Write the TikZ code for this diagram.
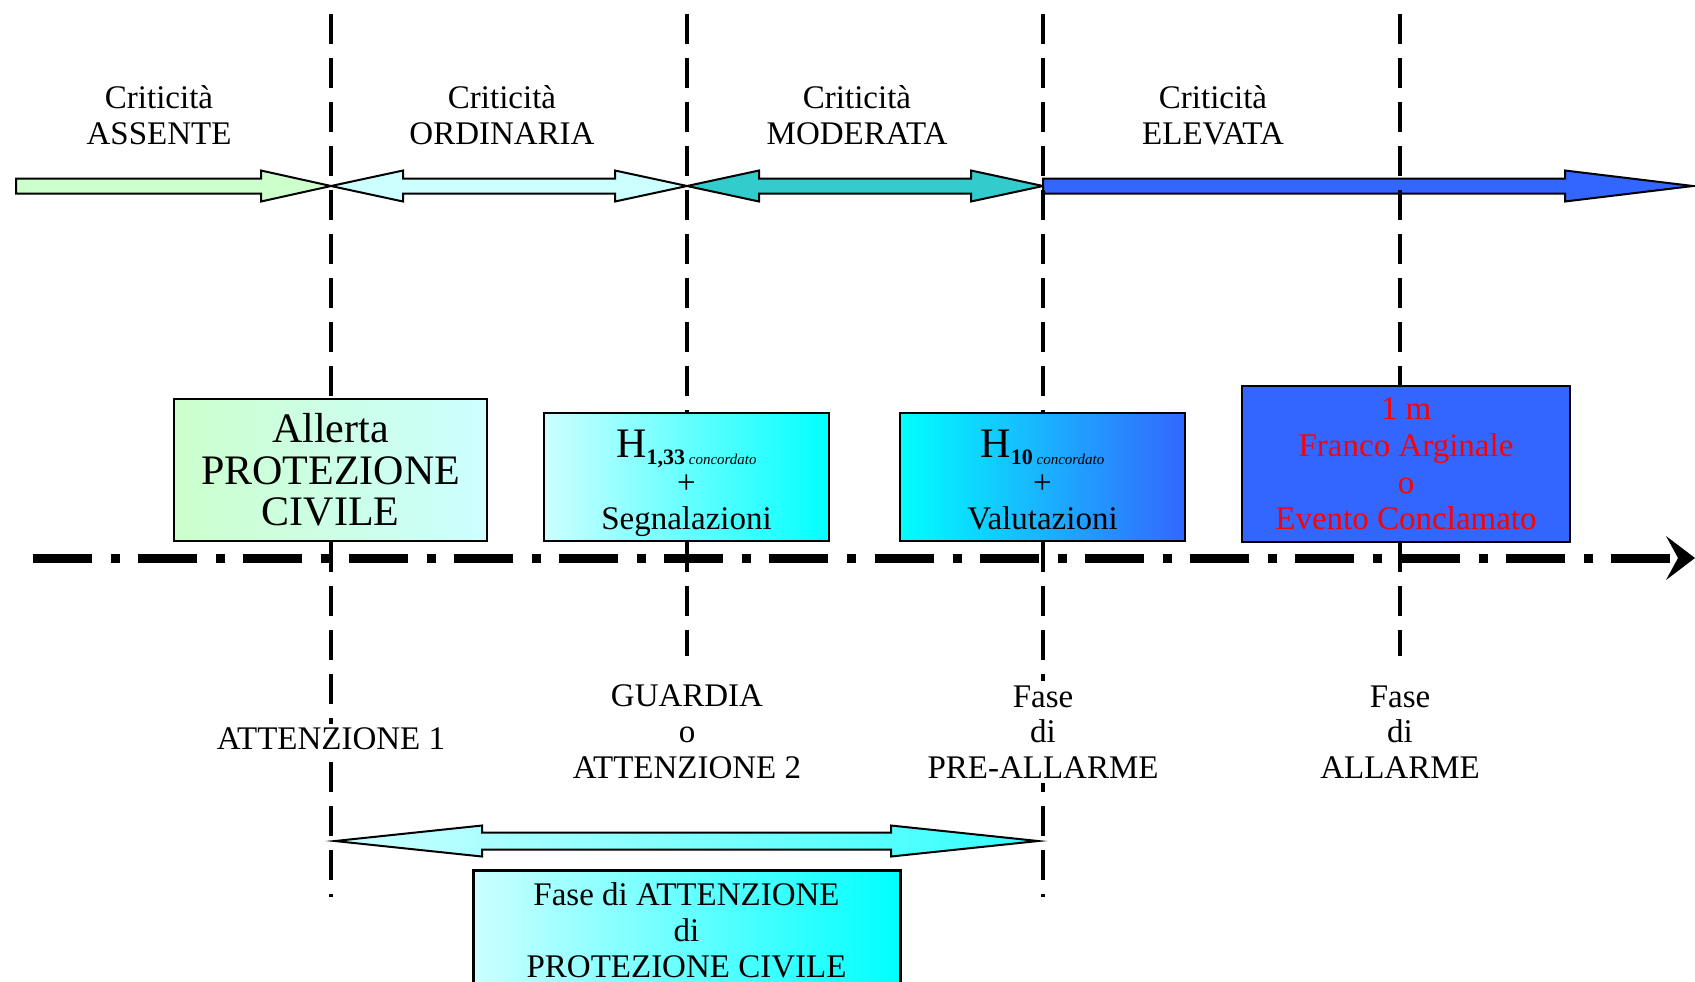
\documentclass[tikz,border=0pt]{standalone}
\usepackage{fontspec}
\setmainfont{Liberation Serif}
\usetikzlibrary{arrows.meta}
\definecolor{cgreen}{RGB}{204,255,204}
\definecolor{clcyan}{RGB}{204,255,255}
\definecolor{cteal}{RGB}{51,204,204}
\definecolor{cblue}{RGB}{51,102,255}
\definecolor{ccyan}{RGB}{0,255,255}
\definecolor{cbcyan}{RGB}{51,255,255}
\definecolor{cred}{RGB}{255,0,0}
% x1, x2, y, head length, half head, half shaft, style
\newcommand\sglarrow[7]{\path[#7] (#1,{#3-#6}) -- ({#2-#4},{#3-#6}) -- ({#2-#4},{#3-#5}) -- (#2,#3) -- ({#2-#4},{#3+#5}) -- ({#2-#4},{#3+#6}) -- (#1,{#3+#6}) -- cycle;}
\newcommand\dblarrow[7]{\path[#7] (#1,#3) -- ({#1+#4},{#3-#5}) -- ({#1+#4},{#3-#6}) -- ({#2-#4},{#3-#6}) -- ({#2-#4},{#3-#5}) -- (#2,#3) -- ({#2-#4},{#3+#5}) -- ({#2-#4},{#3+#6}) -- ({#1+#4},{#3+#6}) -- ({#1+#4},{#3+#5}) -- cycle;}
\begin{document}
\begin{tikzpicture}[x=0.5pt,y=-0.5pt,
  txt/.style={font=\fontsize{16.5}{17.9}\selectfont, align=center, inner sep=1pt},
  lbl/.style={txt, fill=white, inner sep=2pt},
  vline/.style={line width=1.6pt, dash pattern=on 15pt off 7pt},
  arrowpath/.style={draw=black, line width=1pt, line join=miter},
  box/.style={draw=black, line width=0.8pt, align=center, inner sep=0pt, font=\fontsize{16.5}{17.9}\selectfont},
  hbox/.style={box, minimum width=142.5pt, minimum height=64pt}]
\useasboundingbox (0,0) rectangle (1695,981);
\clip (0,0) rectangle (1695,981);

% top block arrows
\sglarrow{16}{331}{186}{70}{15.5}{7.5}{arrowpath, fill=cgreen}
\dblarrow{331}{687}{186}{72}{15.5}{7.5}{arrowpath, fill=clcyan}
\dblarrow{687}{1043}{186}{72}{15.5}{7.5}{arrowpath, fill=cteal}
\sglarrow{1043}{1693}{186}{128}{15.5}{7.5}{arrowpath, fill=cblue}

% vertical dashed lines
\coordinate (v1a) at (331,14);  \coordinate (v1b) at (331,897);
\coordinate (v2a) at (687,14);  \coordinate (v2b) at (687,656);
\coordinate (v3a) at (1043,14); \coordinate (v3b) at (1043,897);
\coordinate (v4a) at (1400,14); \coordinate (v4b) at (1400,656);
\draw[vline] (v1a) -- (v1b);
\draw[vline] (v2a) -- (v2b);
\draw[vline] (v3a) -- (v3b);
\draw[vline] (v4a) -- (v4b);

% top labels
\node[txt] (crit1) at (159,115) {Criticità\\ASSENTE};
\node[txt] (crit2) at (502,115) {Criticità\\ORDINARIA};
\node[txt] (crit3) at (857,115) {Criticità\\MODERATA};
\node[txt] (crit4) at (1213,115) {Criticità\\ELEVATA};

% boxes
\node[box, left color=cgreen, right color=clcyan, minimum width=156.5pt, minimum height=71pt,
      font=\fontsize{21}{20.8}\selectfont] (allerta) at (330.5,470) {Allerta\\PROTEZIONE\\CIVILE};
\node[hbox, left color=clcyan, right color=ccyan] (h133) at (686.5,477) {};
\node[txt] (h133t) at (686.5,483)
  {{\fontsize{21}{21}\selectfont H}{\raisebox{-0.45ex}{\fontsize{11}{11}\selectfont\bfseries 1,33\,{\fontsize{7.5}{7.5}\selectfont\mdseries\itshape concordato}}}\\+\\Segnalazioni};
\node[hbox, left color=ccyan, right color=cblue] (h10) at (1042.5,477) {};
\node[txt] (h10t) at (1042.5,480)
  {{\fontsize{21}{21}\selectfont H}{\raisebox{-0.45ex}{\fontsize{11}{11}\selectfont\bfseries 10\,{\fontsize{7.5}{7.5}\selectfont\mdseries\itshape concordato}}}\\+\\Valutazioni};
\node[box, fill=cblue, text=cred, minimum width=164pt, minimum height=78pt,
      font=\fontsize{16.5}{18.3}\selectfont] (franco) at (1406,464)
  {1 m\\Franco Arginale\\o\\Evento Conclamato};

% main time axis
\coordinate (axa) at (33,558);
\coordinate (axb) at (1676,558);
\draw[line width=4.5pt, dash pattern=on 29.5pt off 9.5pt on 4.5pt off 9.1pt] (axa) -- (axb);
\fill (1666,536) -- (1695,558) -- (1666,580) -- (1678,558) -- cycle;

% lower labels
\node[lbl] (att1) at (331,739) {ATTENZIONE 1};
\node[txt] (guardia) at (687,732) {GUARDIA\\o\\ATTENZIONE 2};
\node[lbl] (preall) at (1043,732) {Fase\\di\\PRE-ALLARME};
\node[txt] (allarme) at (1400,732) {Fase\\di\\ALLARME};

% bottom arrow and box
\dblarrow{335}{1038}{841}{147}{15.5}{8.5}{arrowpath, left color=clcyan, right color=cbcyan}
\node[box, line width=1.5pt, left color=clcyan, right color=ccyan, minimum width=213.5pt, minimum height=60pt] (fase) at (686.5,930)
  {Fase di ATTENZIONE\\di\\PROTEZIONE CIVILE};
\end{tikzpicture}
\end{document}
